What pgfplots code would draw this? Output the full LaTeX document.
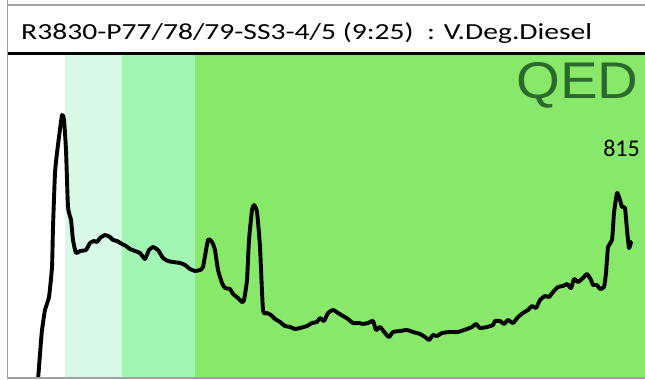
\documentclass[border=0pt]{standalone}
\usepackage{pgfplots}
\pgfplotsset{compat=1.18}
\usepackage{fontspec}
\setmainfont{Carlito}
\definecolor{bandA}{HTML}{D8F9E6}
\definecolor{bandB}{HTML}{A2F5B2}
\definecolor{bandC}{HTML}{88E86A}
\definecolor{qedline}{HTML}{2A6A2C}
\definecolor{frame}{HTML}{A0A0A0}
\begin{document}
\begin{tikzpicture}[x=1pt,y=1pt]
\useasboundingbox (0,0) rectangle (645,380);
\fill[white] (0,0) rectangle (645,380);
\begin{axis}[
  at={(9pt,2pt)}, anchor=south west,
  width=636pt, height=323pt, scale only axis,
  xmin=9, xmax=645, ymin=2, ymax=325,
  axis lines=none, ticks=none, clip=true,
]
\addplot[fill=bandA, draw=none] coordinates {(65,2) (65,325) (122,325) (122,2)} --cycle;
\addplot[fill=bandB, draw=none] coordinates {(122,2) (122,325) (195,325) (195,2)} --cycle;
\addplot[fill=bandC, draw=none] coordinates {(195,2) (195,325) (645,325) (645,2)} --cycle;
\addplot[black, line width=3.9pt, line join=round, line cap=round, smooth, tension=0.3] coordinates {
(38,0) (41.7,47) (45,70) (49,83) (52,113) (53,153) (55,207) (57,227) (59,243) (62,265) (64,260)
(66,230) (68,173) (71,160) (73,140) (76,127) (80,129) (86,130) (90,137) (94,139) (97,138)
(100,142) (105,145) (110,143) (113,140) (117,139) (122,136) (126,134) (130,131) (135,129)
(140,127) (145,121) (149,130) (153,133) (158,130) (163,122) (168,119) (173,118) (180,117)
(185,115) (190,111) (195,109) (200,110) (203,113) (208,140) (212,138) (215,130) (218,110)
(222,97) (225,92) (230,91) (233,86) (238,82) (242,78) (244,80) (247,100) (249,140) (252,170)
(254,175) (257,168) (260,133) (263,70) (267,67) (271,65) (275,61) (280,58) (285,54) (290,53)
(295,51) (300,52) (307,54) (312,57) (317,58) (320,62) (324,59) (328,67) (333,70) (338,67)
(343,64) (348,61) (353,57) (359,57) (363,56) (368,57) (373,59) (376,50) (380,53) (385,47)
(389,43) (393,48) (400,49) (407,50) (413,48) (420,46) (425,43) (429,40) (433,45) (437,44)
(442,47) (450,48) (458,48) (467,51) (472,53) (476,56) (480,52) (487,53) (493,55) (495,59)
(500,59) (504,56) (508,60) (513,57) (518,63) (523,67) (528,70) (532,74) (536,72) (540,80)
(545,84) (549,83) (553,88) (558,93) (563,94) (567,96) (571,92) (574,101) (578,98) (583,102)
(587,106) (591,100) (593,95) (597,95) (600,91) (604,93) (606,107) (608,133) (612,140)
(614,167) (617,187) (620,180) (622,173) (625,172) (627,150) (629,132) (631,138)
};
\end{axis}
% frame
\draw[frame, line width=1.5pt] (7.5,380) -- (7.5,2) -- (645,2);
\draw[frame, line width=1.5pt] (7.5,375) -- (645,375);
\draw[black, line width=3pt] (7.5,326.5) -- (645,326.5);
% title
\node[anchor=base west, inner sep=0pt] at (21,340) {\resizebox{571pt}{\height}{\fontsize{23}{24}\selectfont R3830-P77/78/79-SS3-4/5 (9:25)\ \ : V.Deg.Diesel}};
% logo
\node[anchor=base west, inner sep=0pt] at (516,281) {\resizebox{122pt}{36pt}{\fontspec{Liberation Sans}\color{qedline}QED}};
\node[anchor=base east, inner sep=0pt] at (640,223) {\fontsize{24}{26}\selectfont 815};
\end{tikzpicture}
\end{document}
